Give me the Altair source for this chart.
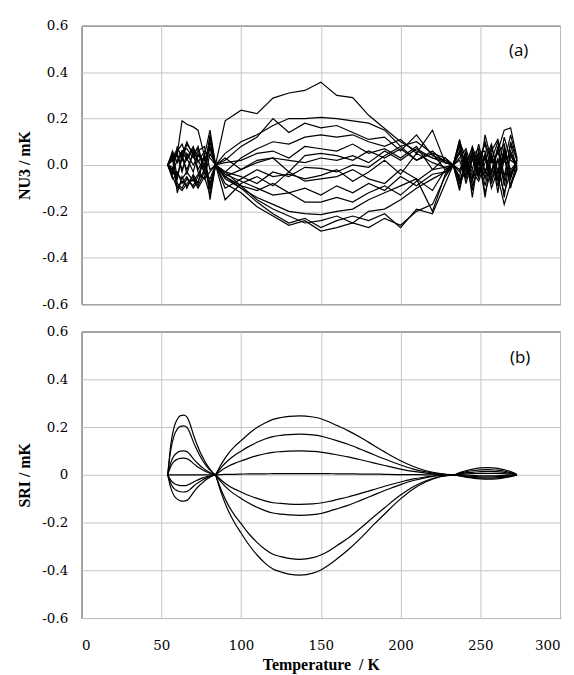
import altair as alt
import pandas as pd

LABEL_FONT = "DejaVu Serif"
LABEL_SIZE = 13.5
SERIF = "Liberation Serif"
SANS = "Open Sans"

# ---------------- Panel (a): NU3 / mK ----------------
T_LEFT = [54, 57, 60, 63, 66, 70, 73, 77, 80.5, 84]
T_MID = [84, 90, 100, 110, 120, 130, 140, 150, 160, 170, 180, 190, 200, 210, 220, 228, 233]
T_RIGHT = [233, 237, 241, 245, 249, 253, 257, 261, 265, 269, 273]

NU3_LEFT = [
    [0, .02, .05, .19, .175, .164, .15, .04, .15, 0],
    [0, -.04, .08, .02, .09, .05, .07, -.04, .12, 0],
    [0, .03, -.12, -.05, -.10, -.04, -.08, .05, -.15, 0],
    [0, -.02, .06, .09, .03, .08, .02, -.03, .10, 0],
    [0, .04, -.08, -.10, -.06, -.09, -.05, .04, -.11, 0],
    [0, -.03, .02, .06, .07, .03, .06, .08, -.02, 0],
    [0, .05, -.05, .03, -.02, .05, -.03, -.06, .05, 0],
    [0, -.05, -.10, -.07, -.09, -.06, -.10, -.05, -.13, 0],
    [0, .02, .04, -.03, .05, .00, .04, .02, .08, 0],
    [0, -.02, -.06, .05, -.04, .06, -.02, .03, -.08, 0],
    [0, .03, .07, .04, .10, .04, .08, -.02, .13, 0],
    [0, -.04, -.03, -.08, -.05, -.10, -.07, -.02, -.09, 0],
    [0, .06, .01, .06, .02, .07, .01, .06, .03, 0],
    [0, -.01, -.09, -.11, -.08, -.05, -.09, -.03, -.06, 0],
    [0, .04, .05, -.02, .03, -.03, .05, .00, .07, 0],
    [0, -.06, -.04, -.06, -.03, -.07, -.04, -.06, -.03, 0],
]
NU3_MID = [
    [0, .19, .236, .221, .288, .31, .321, .357, .30, .29, .214, .157, .10, .06, .03, .02, 0],
    [0, .05, .10, .13, .17, .20, .20, .205, .20, .19, .18, .15, .08, .10, .05, .03, 0],
    [0, .02, .08, .12, .20, .14, .18, .16, .17, .14, .11, .12, .06, .13, .04, .02, 0],
    [0, -.03, .03, .07, .10, .09, .12, .13, .12, .13, .10, .08, .11, .05, .15, .01, 0],
    [0, .01, .02, .05, .06, .03, .08, .07, .06, .09, .05, .07, .03, .08, -.02, .03, 0],
    [0, -.05, -.02, .02, .03, -.03, .04, .05, .04, .02, .06, .03, .07, .02, .05, -.02, 0],
    [0, .03, -.02, .01, .03, .02, .01, .03, .02, .04, .01, .06, .02, .07, .03, .01, 0],
    [0, -.03, -.05, -.08, -.03, -.05, -.01, -.015, -.03, 0, -.01, .04, .08, .02, .06, .01, 0],
    [0, -.10, -.06, -.02, -.05, -.04, -.06, -.045, -.02, -.07, -.03, .02, -.04, .05, .01, -.01, 0],
    [0, -.15, -.08, -.05, -.09, -.03, -.07, -.06, -.05, -.02, -.06, -.08, -.02, -.06, -.11, -.02, 0],
    [0, -.05, -.09, -.11, -.08, -.12, -.10, -.13, -.09, -.12, -.08, -.11, -.05, -.09, -.04, -.03, 0],
    [0, -.04, -.07, -.10, -.13, -.12, -.16, -.16, -.14, -.16, -.12, -.09, -.13, -.07, -.02, -.01, 0],
    [0, -.06, -.10, -.14, -.17, -.20, -.21, -.214, -.20, -.19, -.15, -.12, -.09, -.06, -.20, -.04, 0],
    [0, -.03, -.09, -.15, -.19, -.22, -.25, -.24, -.22, -.25, -.20, -.19, -.15, -.10, -.06, -.03, 0],
    [0, -.05, -.10, -.16, -.21, -.25, -.23, -.27, -.24, -.22, -.24, -.21, -.27, -.19, -.21, -.08, 0],
    [0, -.08, -.12, -.18, -.22, -.26, -.24, -.285, -.27, -.25, -.27, -.23, -.26, -.20, -.17, -.05, 0],
]
NU3_RIGHT = [
    [0, .11, -.02, .05, .02, .09, -.03, .06, .15, .16, .03],
    [0, -.10, .04, -.05, .06, -.04, .08, -.03, .06, -.02, .01],
    [0, .08, -.05, .03, -.06, .13, .02, .10, -.05, .09, -.02],
    [0, -.05, .06, -.14, .04, -.14, .05, -.12, .08, -.04, .02],
    [0, .05, .01, .07, -.03, .05, -.06, .03, -.14, .06, -.01],
    [0, -.08, -.02, -.06, .03, -.09, .04, -.07, .05, -.10, .02],
    [0, .10, .03, .04, .07, .02, .09, -.04, .12, .02, 0],
    [0, -.03, .05, -.09, -.01, -.05, -.03, .07, -.09, .05, -.02],
    [0, .06, -.08, .02, .05, .06, -.08, .02, .03, -.06, .03],
    [0, -.11, .02, -.03, -.07, .01, .03, -.05, -.17, -.08, -.01],
    [0, .03, .07, -.02, .09, -.03, .06, .11, .01, .13, .02],
    [0, -.06, -.04, .06, -.05, .04, -.10, -.02, -.12, -.03, 0],
    [0, .09, -.01, .08, .00, .10, .01, .05, .09, -.05, .01],
    [0, -.02, .03, -.07, .04, -.06, .05, -.09, .02, .04, -.01],
    [0, .02, -.06, .04, -.04, .03, -.04, .08, -.07, .10, .02],
    [0, -.07, .01, -.11, .02, -.12, -.02, -.06, .04, -.09, -.02],
]

# ---------------- Panel (b): SRI / mK ----------------
SRI_T1 = [54, 56, 58, 60, 62, 64, 66, 68, 70, 72, 74, 76, 78, 80, 82, 84]
SRI_T2 = [84, 88, 92, 96, 100, 105, 110, 115, 120, 125, 130, 137, 145, 150, 155, 160,
          167, 175, 183, 190, 200, 208, 216, 225, 234]
SRI_T3 = [234, 238, 242, 246, 250, 255, 260, 264, 268, 271, 273]

SRI_SEG1 = [
    [0, .13, .20, .233, .248, .25, .243, .213, .17, .133, .10, .073, .048, .028, .011, 0],
    [0, .107, .164, .191, .203, .205, .199, .174, .139, .109, .082, .059, .039, .023, .009, 0],
    [0, .052, .08, .093, .099, .10, .097, .085, .068, .053, .04, .029, .019, .011, .005, 0],
    [0, .036, .056, .065, .069, .07, .068, .06, .048, .037, .028, .02, .013, .008, .003, 0],
    [0, 0, 0, 0, 0, 0, 0, 0, 0, 0, 0, 0, 0, 0, 0, 0],
    [0, -.023, -.036, -.042, -.045, -.045, -.044, -.038, -.031, -.024, -.018, -.013, -.009, -.005, -.002, 0],
    [0, -.037, -.058, -.067, -.071, -.072, -.07, -.061, -.049, -.038, -.029, -.021, -.014, -.008, -.003, 0],
    [0, -.057, -.088, -.102, -.109, -.11, -.107, -.094, -.075, -.058, -.044, -.032, -.021, -.012, -.005, 0],
]
SRI_SEG2 = [
    [0, -.084, -.151, -.202, -.244, -.294, -.336, -.37, -.395, -.407, -.416, -.42, -.412, -.399,
     -.378, -.353, -.315, -.265, -.21, -.164, -.101, -.059, -.029, -.008, 0],
    [0, -.071, -.127, -.17, -.205, -.248, -.283, -.312, -.333, -.343, -.35, -.354, -.347, -.336,
     -.319, -.297, -.266, -.223, -.177, -.138, -.085, -.05, -.025, -.007, 0],
    [0, -.034, -.061, -.082, -.099, -.119, -.136, -.15, -.16, -.165, -.168, -.17, -.167, -.162,
     -.153, -.143, -.128, -.107, -.085, -.066, -.041, -.024, -.012, -.003, 0],
    [0, -.025, -.045, -.06, -.072, -.087, -.099, -.109, -.117, -.12, -.123, -.124, -.122, -.118,
     -.112, -.104, -.093, -.078, -.062, -.048, -.03, -.017, -.009, -.002, 0],
    [0, .001, .002, .002, .003, .004, .004, .004, .005, .005, .005, .005, .005, .005,
     .005, .004, .004, .003, .003, .002, .001, .001, 0, 0, 0],
    [0, .02, .036, .048, .058, .07, .08, .088, .094, .097, .099, .10, .098, .095,
     .09, .084, .075, .063, .05, .039, .024, .014, .007, .002, 0],
    [0, .034, .061, .082, .099, .119, .136, .15, .16, .165, .168, .17, .167, .162,
     .153, .143, .128, .107, .085, .066, .041, .024, .012, .003, 0],
    [0, .049, .089, .119, .143, .173, .198, .217, .232, .24, .245, .247, .242, .235,
     .222, .207, .185, .156, .124, .096, .059, .035, .017, .005, 0],
]
SRI_SEG3 = [
    [0, .011, .019, .025, .029, .03, .028, .023, .016, .008, 0],
    [0, .008, .014, .018, .021, .022, .02, .017, .011, .006, 0],
    [0, .005, .009, .011, .013, .014, .013, .011, .007, .004, 0],
    [0, .002, .004, .005, .006, .006, .006, .005, .003, .002, 0],
    [0, -.001, -.002, -.003, -.004, -.004, -.004, -.003, -.002, -.001, 0],
    [0, -.003, -.006, -.007, -.009, -.009, -.008, -.007, -.005, -.002, 0],
    [0, -.005, -.009, -.011, -.013, -.014, -.013, -.011, -.007, -.004, 0],
    [0, -.006, -.011, -.015, -.017, -.018, -.017, -.014, -.009, -.005, 0],
]

X_TICKS = [0, 50, 100, 150, 200, 250, 300]
Y_TICKS = [-0.6, -0.4, -0.2, 0, 0.2, 0.4, 0.6]
PANEL_LABELS = ["(a)", "(b)"]

# ---------------- tables ----------------
rows_a = []
for k in range(len(NU3_MID)):
    ts = T_LEFT + T_MID[1:] + T_RIGHT[1:]
    vs = NU3_LEFT[k] + NU3_MID[k][1:] + NU3_RIGHT[k][1:]
    for i, (t, v) in enumerate(zip(ts, vs)):
        rows_a.append({"T": t, "v": v, "line": k, "i": i})
df_a = pd.DataFrame(rows_a)

rows_b = []
for k in range(8):
    for s, (ts, seg) in enumerate([(SRI_T1, SRI_SEG1), (SRI_T2, SRI_SEG2), (SRI_T3, SRI_SEG3)]):
        for i, (t, v) in enumerate(zip(ts, seg[k])):
            rows_b.append({"T": t, "v": v, "curve": f"{k}-{s}", "i": i})
df_b = pd.DataFrame(rows_b)

GRID = "#c4c4c4"

def x_enc(show):
    if show:
        ax = alt.Axis(values=X_TICKS, title="Temperature\u00a0 / K", labelPadding=20.5,
                      titlePadding=5, grid=True, labelFont=LABEL_FONT, labelFontSize=LABEL_SIZE,
                      titleFont=SERIF)
    else:
        ax = alt.Axis(values=X_TICKS, labels=False, title=None, grid=True)
    return alt.X("T:Q", scale=alt.Scale(domain=[0, 300], nice=False), axis=ax)

def y_enc(title, expr):
    return alt.Y("v:Q", scale=alt.Scale(domain=[-0.6, 0.6], nice=False),
                 axis=alt.Axis(values=Y_TICKS, title=title, labelExpr=expr,
                               labelPadding=14, titlePadding=9, labelFont=LABEL_FONT,
                               labelFontSize=LABEL_SIZE, titleFont=SERIF))

expr_a = "(datum.value < 0 ? '-' : '') + format(abs(datum.value), '.1f')"
expr_b = "abs(datum.value) < 1e-9 ? '0' : (datum.value < 0 ? '-' : '') + format(abs(datum.value), '.1f')"

lines_a = alt.Chart(df_a).mark_line(color="black", strokeWidth=1.2).encode(
    x=x_enc(False), y=y_enc("NU3 / mK", expr_a), detail="line:N", order="i:Q")
lab_a = alt.Chart(pd.DataFrame({"t": [PANEL_LABELS[0]], "T": [274], "v": [0.49]})).mark_text(
    font=SANS, fontSize=17, color="black").encode(x="T:Q", y="v:Q", text="t:N")
chart_a = alt.layer(lines_a, lab_a).properties(width=481, height=280)

lines_b = alt.Chart(df_b).mark_line(color="black", strokeWidth=1.2, interpolate="monotone").encode(
    x=x_enc(True), y=y_enc("SRI / mK", expr_b), detail="curve:N", order="i:Q")
lab_b = alt.Chart(pd.DataFrame({"t": [PANEL_LABELS[1]], "T": [275], "v": [0.49]})).mark_text(
    font=SANS, fontSize=17, color="black").encode(x="T:Q", y="v:Q", text="t:N")
chart_b = alt.layer(lines_b, lab_b).properties(width=481, height=288)

chart = alt.vconcat(chart_a, chart_b, spacing=12.5).properties(
    padding={"left": 8, "top": 8, "right": 5, "bottom": 5},
    background="white",
).configure_view(stroke="black", strokeWidth=1).configure_axis(
    labelColor="black",
    titleFontSize=16, titleFontWeight="bold", titleColor="black",
    gridColor=GRID, gridWidth=1, ticks=False, domain=False,
)

chart.save("out.html", embed_options={"renderer": "svg", "actions": False})
